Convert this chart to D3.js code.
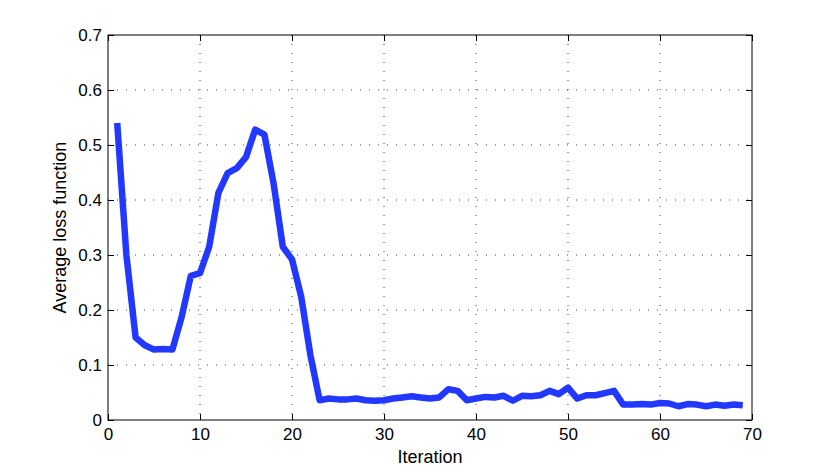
<!DOCTYPE html>
<html>
<head>
<meta charset="utf-8">
<script src="https://cdn.jsdelivr.net/npm/d3@7"></script>
<style>
  body { margin: 0; background: #fff; }
  svg { display: block; }
  .grid line { stroke: #444; stroke-width: 1; stroke-dasharray: 1,8; }
</style>
</head>
<body>
<svg id="chart" width="830" height="472"></svg>
<script>

// loss per iteration
var iterations = d3.range(1, 70);
var avgLoss = [
    0.540, 0.300, 0.150, 0.136, 0.128, 0.129, 0.128, 0.187, 0.262, 0.267,
    0.315, 0.413, 0.449, 0.458, 0.478, 0.528, 0.519, 0.430, 0.315, 0.292,
    0.224, 0.118, 0.036, 0.039, 0.0375, 0.0375, 0.039, 0.036, 0.035, 0.036,
    0.039, 0.041, 0.043, 0.041, 0.039, 0.041, 0.056, 0.053, 0.036, 0.039,
    0.042, 0.041, 0.044, 0.035, 0.044, 0.043, 0.045, 0.053, 0.047, 0.059,
    0.039, 0.045, 0.045, 0.049, 0.053, 0.028, 0.028, 0.029, 0.028, 0.031,
    0.030, 0.025, 0.029, 0.028, 0.025, 0.028, 0.026, 0.028, 0.027
];
var xTicks = [0, 10, 20, 30, 40, 50, 60, 70];
var yTicks = [0, 0.1, 0.2, 0.3, 0.4, 0.5, 0.6, 0.7];

var font = "'Liberation Sans', Arial, Helvetica, sans-serif";

var margin = {top: 35, right: 78, bottom: 52, left: 108},
    width = 830 - margin.left - margin.right,
    height = 472 - margin.top - margin.bottom;

var svg = d3.select("#chart")
  .append("g")
    .attr("transform", "translate(" + margin.left + "," + margin.top + ")");

var x = d3.scaleLinear().domain([0, 70]).range([0, width]);
var y = d3.scaleLinear().domain([0, 0.7]).range([height, 0]);

// dotted grid
var grid = svg.append("g").attr("class", "grid");

grid.selectAll("line.v")
    .data(xTicks.slice(1, -1))
  .enter().append("line")
    .attr("class", "v")
    .attr("x1", function(d) { return x(d); })
    .attr("x2", function(d) { return x(d); })
    .attr("y1", 0)
    .attr("y2", height);

grid.selectAll("line.h")
    .data(yTicks.slice(1, -1))
  .enter().append("line")
    .attr("class", "h")
    .attr("x1", 0)
    .attr("x2", width)
    .attr("y1", function(d) { return y(d); })
    .attr("y2", function(d) { return y(d); });

// the loss line
var line = d3.line()
    .x(function(d, i) { return x(iterations[i]); })
    .y(function(d) { return y(d); });

svg.append("path")
    .datum(avgLoss)
    .attr("d", line)
    .attr("fill", "none")
    .attr("stroke", "#2238ff")
    .attr("stroke-width", 6.5)
    .attr("stroke-linejoin", "round");

// axes, ticks pointing inward, box all around
function styleAxis(g) {
    g.attr("font-family", font).attr("font-size", 17);
    g.select(".domain").remove();
    g.selectAll("text").attr("fill", "#000");
}

svg.append("g")
    .attr("transform", "translate(0," + height + ")")
    .call(d3.axisBottom(x).tickValues(xTicks).tickSizeInner(-6).tickSizeOuter(0).tickPadding(8))
    .call(styleAxis);

svg.append("g")
    .call(d3.axisLeft(y).tickValues(yTicks).tickFormat(d3.format("")).tickSizeInner(-6).tickSizeOuter(0).tickPadding(6))
    .call(styleAxis);

svg.append("g")
    .call(d3.axisTop(x).tickValues(xTicks).tickSizeInner(-6).tickSizeOuter(0).tickFormat(""))
    .call(styleAxis);

svg.append("g")
    .attr("transform", "translate(" + width + ",0)")
    .call(d3.axisRight(y).tickValues(yTicks).tickSizeInner(-6).tickSizeOuter(0).tickFormat(""))
    .call(styleAxis);

svg.append("rect")
    .attr("width", width)
    .attr("height", height)
    .attr("fill", "none")
    .attr("stroke", "#000")
    .attr("stroke-width", 1);

// axis labels
svg.append("text")
    .attr("x", width / 2)
    .attr("y", height + 43)
    .attr("text-anchor", "middle")
    .attr("font-family", font)
    .attr("font-size", 18)
    .text("Iteration");

svg.append("text")
    .attr("transform", "rotate(-90)")
    .attr("x", -height / 2)
    .attr("y", -42)
    .attr("text-anchor", "middle")
    .attr("font-family", font)
    .attr("font-size", 18)
    .text("Average loss function");

</script>
</body>
</html>
